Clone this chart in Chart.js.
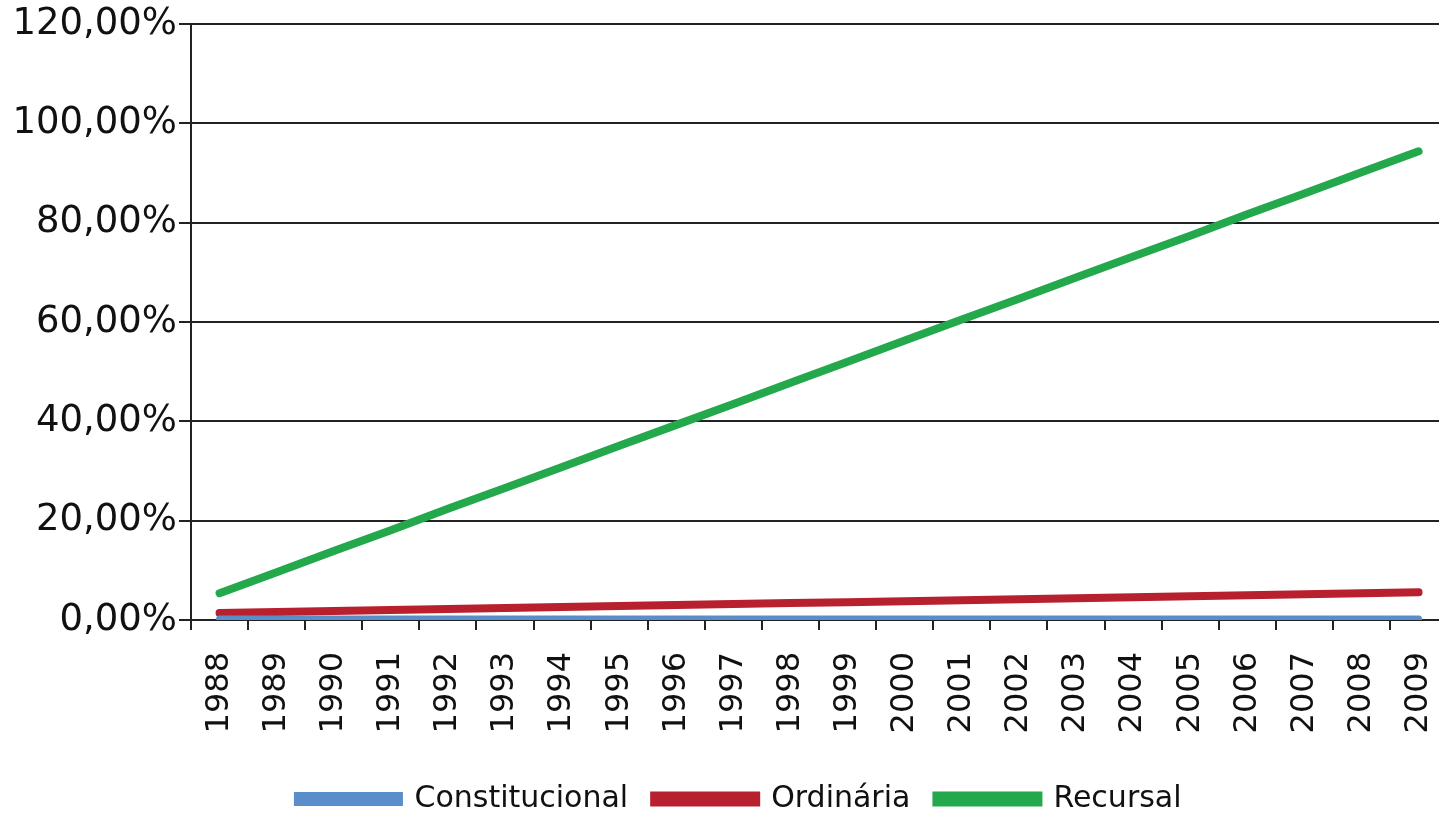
<!DOCTYPE html>
<html>
<head>
<meta charset="utf-8">
<script src="https://cdn.jsdelivr.net/npm/chart.js@4.4.1/dist/chart.umd.min.js"></script>
<style>
	html, body { margin: 0; padding: 0; background: #fff; overflow: hidden; }
	#wrap { position: relative; width: 1479px; height: 824px; }
</style>
</head>
<body>
<div id="wrap"><canvas id="chart"></canvas></div>
<script>
// ── Data ──────────────────────────────────────────────────────────────────
var years = [ '1988','1989','1990','1991','1992','1993','1994','1995','1996','1997','1998',
              '1999','2000','2001','2002','2003','2004','2005','2006','2007','2008','2009' ];

var constitucional = [ 0.2, 0.2, 0.2, 0.2, 0.2, 0.2, 0.2, 0.2, 0.2, 0.2, 0.2,
                       0.2, 0.2, 0.2, 0.2, 0.2, 0.2, 0.2, 0.2, 0.2, 0.2, 0.2 ];
var ordinaria      = [ 1.4, 1.6, 1.8, 2.0, 2.2, 2.4, 2.6, 2.8, 3.0, 3.2, 3.4,
                       3.6, 3.8, 4.0, 4.2, 4.4, 4.6, 4.8, 5.0, 5.2, 5.4, 5.6 ];
var recursal       = [ 5.4, 9.6, 13.9, 18.1, 22.4, 26.6, 30.8, 35.1, 39.3, 43.5, 47.8,
                       52.0, 56.3, 60.5, 64.7, 69.0, 73.2, 77.4, 81.7, 85.9, 90.2, 94.4 ];

var yTicks = [ 0, 20, 40, 60, 80, 100, 120 ];

var FONT = '"DejaVu Sans", sans-serif';

function pct( v ) {
	return v.toFixed( 2 ).replace( '.', ',' ) + '%';
}

function series( label, data, color, width ) {
	return {
		label           : label,
		data            : data,
		borderColor     : color,
		backgroundColor : color,
		borderWidth     : width,
		pointRadius     : 0,
		tension         : 0,
		borderCapStyle  : 'round',
	};
}

new Chart( document.getElementById( 'chart' ), {
	type : 'line',
	data : {
		labels   : years,
		datasets : [
			series( 'Constitucional', constitucional, '#5a8ecb', 7 ),
			series( 'Ordinária',      ordinaria,      '#b8202e', 8 ),
			series( 'Recursal',       recursal,       '#23a84b', 8 ),
		],
	},
	options : {
		responsive          : true,
		maintainAspectRatio : false,
		animation           : false,
		layout              : { padding: { top: 8, right: 0, left: 0, bottom: 0 } },
		plugins : {
			tooltip : { enabled: false },
			legend  : {
				position : 'bottom',
				labels   : {
					color     : '#111',
					boxWidth  : 102,
					boxHeight : 7,
					padding   : 26,
					font      : { family: FONT, size: 30 },
				},
			},
		},
		scales : {
			x : {
				offset : true,
				grid   : {
					offset          : true,
					drawOnChartArea : false,
					drawTicks       : true,
					tickLength      : 10,
					color           : '#222',
					lineWidth       : 2,
				},
				border : { color: '#222', width: 2 },
				ticks  : {
					color       : '#111',
					minRotation : 90,
					maxRotation : 90,
					autoSkip    : false,
					padding     : 22,
					font        : { family: FONT, size: 32 },
				},
				afterFit : function ( scale ) { scale.height = 138; },
			},
			y : {
				min   : 0,
				max   : 120,
				afterBuildTicks : function ( scale ) {
					scale.ticks = yTicks.map( function ( v ) { return { value: v }; } );
				},
				grid  : {
					color      : '#222',
					lineWidth  : 2,
					tickLength : 12,
				},
				border : { color: '#222', width: 2 },
				ticks  : {
					color    : '#111',
					padding  : 2,
					font     : { family: FONT, size: 37 },
					callback : function ( v ) { return pct( v ); },
				},
				afterFit : function ( scale ) { scale.width = 191; },
			},
		},
	},
} );
</script>
</body>
</html>
